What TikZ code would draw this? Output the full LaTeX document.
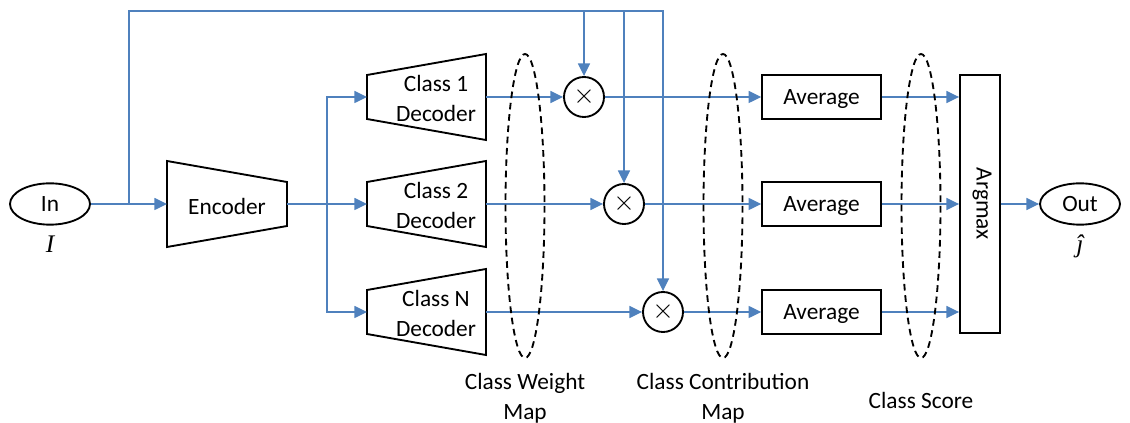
\documentclass[tikz,border=0pt]{standalone}
\usepackage{fontspec}
\setmainfont{Carlito}
\newfontfamily\symfont{Liberation Serif}
\usetikzlibrary{arrows.meta,shapes.geometric}
\tikzset{
  flow/.style={draw=lblue,line width=1.1pt,-{Triangle[length=9.5pt,width=9pt]}},
  blk/.style={draw,line width=1.4pt},
  port/.style={ellipse,draw,line width=1.4pt,minimum width=60pt,minimum height=31pt,inner sep=0pt},
  mult/.style={circle,draw,line width=1.4pt,minimum size=30pt,inner sep=0pt},
  avgbox/.style={rectangle,draw,line width=1.4pt,minimum width=89pt,minimum height=32.5pt},
  varlab/.style={inner sep=0pt,font=\fontsize{19}{19}\selectfont\symfont\itshape},
  group/.style={draw,line width=1.4pt,dash pattern=on 5pt off 3.5pt}
}
\begin{document}
\begin{tikzpicture}[x=0.75pt,y=-0.75pt,font=\fontsize{17.5}{22.5}\selectfont]
 \definecolor{lblue}{RGB}{79,129,189}
 \useasboundingbox (0,0) rectangle (1130,423);
 % input and encoder
 \node[port] (in) at (50,204) {In};
 \node[varlab] (inlab) at (50,244) {I};
 \draw[blk] (167,161) -- (287,182) -- (287,226) -- (167,247) -- cycle;
 \node (enc) at (227,206) {Encoder};
 \coordinate (encin) at (167,204);
 \coordinate (encout) at (287,204);
 \coordinate (br) at (129,204);
 \coordinate (sp) at (327,204);
 % decoders, products and averages
 \foreach \k/\lab/\yp/\xm in {1/1/97/584, 2/2/204/624, 3/N/312/663} {
   \draw[blk] (367,\yp-22) -- (486,\yp-43) -- (486,\yp+43) -- (367,\yp+22) -- cycle;
   \node[align=center] (dec\k) at (436,\yp+1) {Class \lab\\Decoder};
   \coordinate (decin\k) at (367,\yp);
   \coordinate (decout\k) at (486,\yp);
   \node[mult] (m\k) at (\xm,\yp) {};
   \node (mx\k) at (m\k) {\fontsize{21}{21}\selectfont$\times$};
   \node[avgbox] (avg\k) at (821.5,\yp) {};
   \node (avgt\k) at (821.5,\yp+2) {Average};
 }
 % argmax and output
 \node[rectangle,draw,line width=1.4pt,minimum width=30pt,minimum height=193.5pt] (amax) at (980,204) {};
 \node[rotate=-90] (amaxlab) at (982,204) {Argmax};
 \node[port] (out) at (1080,204) {Out};
 \node[varlab] (outlab) at (1080,246) {ĵ};
 % connectors
 \draw[flow] (in) -- (encin);
 \draw[flow] (encout) -- (decin2);
 \draw[flow] (sp) |- (decin1);
 \draw[flow] (sp) |- (decin3);
 \coordinate (tp) at (663,11);
 \draw[flow] (br) |- (tp) -- (m3.north);
 \draw[flow] (m1.north |- tp) -- (m1.north);
 \draw[flow] (m2.north |- tp) -- (m2.north);
 \foreach \k in {1,2,3} {
   \draw[flow] (decout\k) -- (m\k);
   \draw[flow] (m\k) -- (avg\k);
   \draw[flow] (avg\k) -- (amax.west |- avg\k);
 }
 \draw[flow] (amax.east |- out) -- (out);
 % dashed groupings
 \foreach \xp in {525,723,921} {
   \draw[group] (\xp,206) ellipse (19.5 and 152);
 }
 \node[align=center] (cwm) at (525,398) {Class Weight\\Map};
 \node[align=center] (ccm) at (723,398) {Class Contribution\\Map};
 \node (cs) at (921,400) {Class Score};
\end{tikzpicture}
\end{document}
